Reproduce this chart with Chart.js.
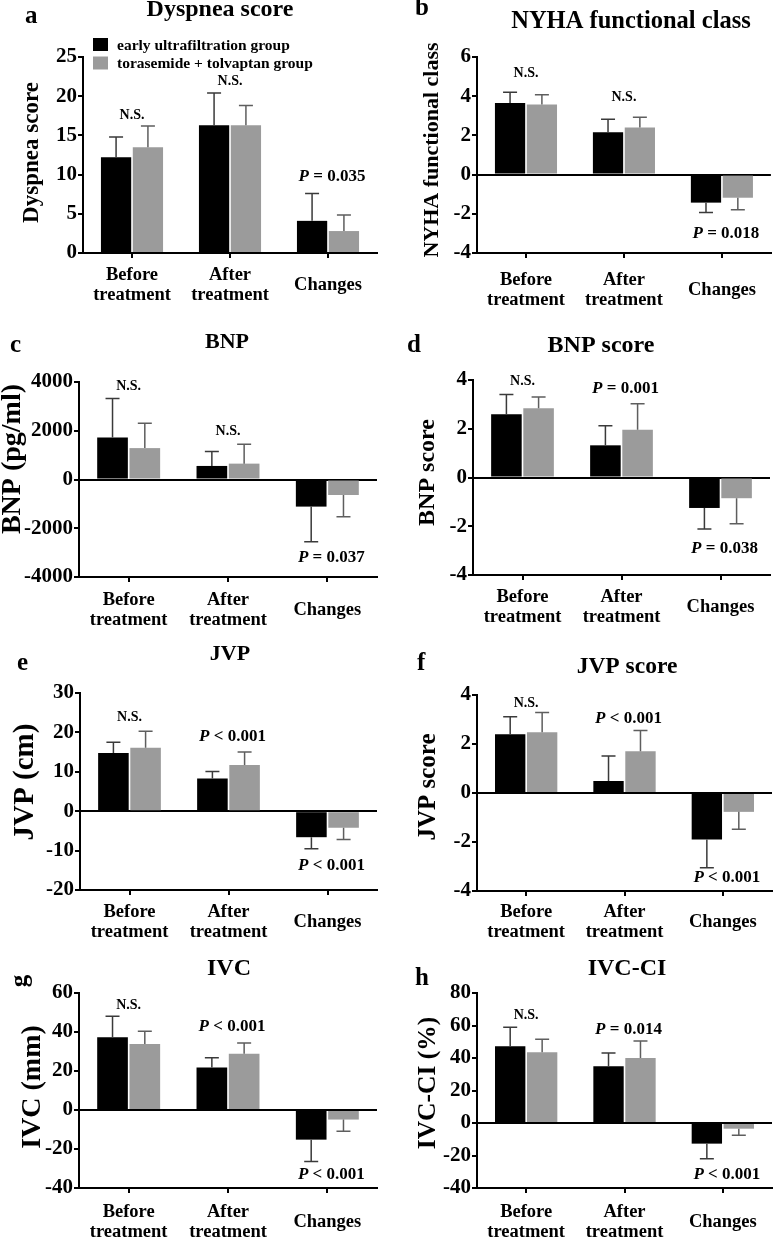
<!DOCTYPE html>
<html>
<head>
<meta charset="utf-8">
<script src="https://cdn.jsdelivr.net/npm/chart.js@4.4.0/dist/chart.umd.min.js"></script>
<style>
  body { margin: 0; background: #fff; }
  #fig { position: relative; width: 778px; height: 1239px; }
  #fig canvas { position: absolute; }
</style>
</head>
<body>
<div id="fig"></div>
<script>
const FONT = '"Liberation Serif", "Times New Roman", serif';

const categories = [['Before', 'treatment'], ['After', 'treatment'], 'Changes'];
const groupNames = ['early ultrafiltration group', 'torasemide + tolvaptan group'];

// a - Dyspnea score
const dyspneaUF = [12.2, 16.3, 4.1];
const dyspneaUFErr = [2.6, 4.1, 3.5];
const dyspneaTT = [13.5, 16.3, 2.8];
const dyspneaTTErr = [2.7, 2.5, 2.05];
const dyspneaTicks = [0, 5, 10, 15, 20, 25];
const dyspneaNotes = ['N.S.', 'N.S.', 'P = 0.035'];
const dyspneaNoteAt = [17.6, 21.9, 9.8];

// b - NYHA functional class
const nyhaUF = [3.65, 2.16, -1.43];
const nyhaUFErr = [0.55, 0.67, 0.51];
const nyhaTT = [3.58, 2.4, -1.18];
const nyhaTTErr = [0.49, 0.53, 0.61];
const nyhaTicks = [-4, -2, 0, 2, 4, 6];
const nyhaNotes = ['N.S.', 'N.S.', 'P = 0.018'];
const nyhaNoteAt = [5.15, 3.95, -3.03];

// c - BNP
const bnpUF = [1720, 556, -1112];
const bnpUFErr = [1600, 597, 1437];
const bnpTT = [1288, 651, -637];
const bnpTTErr = [1017, 800, 895];
const bnpTicks = [-4000, -2000, 0, 2000, 4000];
const bnpNotes = ['N.S.', 'N.S.', 'P = 0.037'];
const bnpNoteAt = [3800, 1966, -3186];

// d - BNP score
const bnpScoreUF = [2.6, 1.32, -1.25];
const bnpScoreUFErr = [0.81, 0.8, 0.86];
const bnpScoreTT = [2.84, 1.96, -0.85];
const bnpScoreTTErr = [0.46, 1.07, 1.05];
const bnpScoreTicks = [-4, -2, 0, 2, 4];
const bnpScoreNotes = ['N.S.', 'P = 0.001', 'P = 0.038'];
const bnpScoreNoteAt = [3.93, 3.66, -2.92];

// e - JVP
const jvpUF = [14.8, 8.3, -6.6];
const jvpUFErr = [2.7, 1.8, 2.9];
const jvpTT = [16.1, 11.75, -4.2];
const jvpTTErr = [4.2, 3.25, 3.0];
const jvpTicks = [-20, -10, 0, 10, 20, 30];
const jvpNotes = ['N.S.', 'P < 0.001', 'P < 0.001'];
const jvpNoteAt = [23.7, 18.85, -13.9];

// f - JVP score
const jvpScoreUF = [2.4, 0.49, -1.9];
const jvpScoreUFErr = [0.71, 1.02, 1.15];
const jvpScoreTT = [2.48, 1.7, -0.77];
const jvpScoreTTErr = [0.81, 0.85, 0.71];
const jvpScoreTicks = [-4, -2, 0, 2, 4];
const jvpScoreNotes = ['N.S.', 'P < 0.001', 'P < 0.001'];
const jvpScoreNoteAt = [3.66, 3.04, -3.47];

// g - IVC
const ivcUF = [37.3, 21.8, -15.2];
const ivcUFErr = [10.8, 5.0, 11.2];
const ivcTT = [33.9, 28.8, -4.9];
const ivcTTErr = [6.5, 5.5, 6.0];
const ivcTicks = [-40, -20, 0, 20, 40, 60];
const ivcNotes = ['N.S.', 'P < 0.001', 'P < 0.001'];
const ivcNoteAt = [53.5, 43, -32.9];

// h - IVC-CI
const ivcciUF = [47.3, 34.9, -12.7];
const ivcciUFErr = [11.7, 8.2, 9.3];
const ivcciTT = [43.5, 40, -3.5];
const ivcciTTErr = [8.1, 10.4, 4.1];
const ivcciTicks = [-40, -20, 0, 20, 40, 60, 80];
const ivcciNotes = ['N.S.', 'P = 0.014', 'P < 0.001'];
const ivcciNoteAt = [66.3, 57.5, -31.6];

// page layout: box = canvas [x, y, w, h], plot = chart area [l, t, r, b] (page px)
const panels = [
  { letter: ['a', 25, 23], title: ['Dyspnea score', 220, 16, 24], yTitle: ['Dyspnea score', 32, 152.5, 23],
    box: [0, 0, 389, 310], plot: [83, 57, 377, 253], labelPad: 17, legend: true,
    uf: dyspneaUF, ufErr: dyspneaUFErr, tt: dyspneaTT, ttErr: dyspneaTTErr,
    ticks: dyspneaTicks, notes: dyspneaNotes, noteAt: dyspneaNoteAt },
  { letter: ['b', 415, 15], title: ['NYHA functional class', 631, 28, 24.5], yTitle: ['NYHA functional class', 432, 150, 22],
    box: [389, 0, 389, 310], plot: [477, 57, 777, 253], labelPad: 22,
    uf: nyhaUF, ufErr: nyhaUFErr, tt: nyhaTT, ttErr: nyhaTTErr,
    ticks: nyhaTicks, notes: nyhaNotes, noteAt: nyhaNoteAt },
  { letter: ['c', 10, 352], title: ['BNP', 227, 348, 22], yTitle: ['BNP (pg/ml)', 13, 459, 28],
    box: [0, 310, 389, 322], plot: [79, 382, 377, 577], labelPad: 18,
    uf: bnpUF, ufErr: bnpUFErr, tt: bnpTT, ttErr: bnpTTErr,
    ticks: bnpTicks, notes: bnpNotes, noteAt: bnpNoteAt },
  { letter: ['d', 407, 352], title: ['BNP score', 601, 352, 24], yTitle: ['BNP score', 428, 472.5, 24],
    box: [389, 310, 389, 322], plot: [473, 380, 770, 575], labelPad: 17,
    uf: bnpScoreUF, ufErr: bnpScoreUFErr, tt: bnpScoreTT, ttErr: bnpScoreTTErr,
    ticks: bnpScoreTicks, notes: bnpScoreNotes, noteAt: bnpScoreNoteAt },
  { letter: ['e', 17, 670], title: ['JVP', 230, 660, 22], yTitle: ['JVP (cm)', 26, 782, 29],
    box: [0, 632, 389, 310], plot: [80, 693, 377, 890], labelPad: 17,
    uf: jvpUF, ufErr: jvpUFErr, tt: jvpTT, ttErr: jvpTTErr,
    ticks: jvpTicks, notes: jvpNotes, noteAt: jvpNoteAt },
  { letter: ['f', 417, 670], title: ['JVP score', 627, 673, 23.5], yTitle: ['JVP score', 429, 787, 25],
    box: [389, 632, 389, 310], plot: [477, 695, 772, 891], labelPad: 16,
    uf: jvpScoreUF, ufErr: jvpScoreUFErr, tt: jvpScoreTT, ttErr: jvpScoreTTErr,
    ticks: jvpScoreTicks, notes: jvpScoreNotes, noteAt: jvpScoreNoteAt },
  { letter: ['g', 21, 981], letterRotated: true, title: ['IVC', 229, 975, 24], yTitle: ['IVC (mm)', 33, 1087, 28],
    box: [0, 942, 389, 297], plot: [79, 993, 377, 1188], labelPad: 19,
    uf: ivcUF, ufErr: ivcUFErr, tt: ivcTT, ttErr: ivcTTErr,
    ticks: ivcTicks, notes: ivcNotes, noteAt: ivcNoteAt },
  { letter: ['h', 415, 985], title: ['IVC-CI', 627, 975, 24], yTitle: ['IVC-CI (%)', 428, 1083, 25.5],
    box: [389, 942, 389, 297], plot: [477, 993, 772, 1188], labelPad: 19,
    uf: ivcciUF, ufErr: ivcciUFErr, tt: ivcciTT, ttErr: ivcciTTErr,
    ticks: ivcciTicks, notes: ivcciNotes, noteAt: ivcciNoteAt }
];

// one-sided SD error bars, pointing away from zero
const errorBars = {
  id: 'errorBars',
  afterDatasetsDraw(chart) {
    const ctx = chart.ctx;
    const ys = chart.scales.y;
    chart.data.datasets.forEach((ds, i) => {
      chart.getDatasetMeta(i).data.forEach((bar, j) => {
        const v = ds.data[j];
        const end = ys.getPixelForValue(v < 0 ? v - ds.err[j] : v + ds.err[j]);
        ctx.save();
        ctx.strokeStyle = ds.errColor;
        ctx.lineWidth = 1.5;
        ctx.beginPath();
        ctx.moveTo(bar.x, bar.y);
        ctx.lineTo(bar.x, end);
        ctx.moveTo(bar.x - 7, end);
        ctx.lineTo(bar.x + 7, end);
        ctx.stroke();
        ctx.restore();
      });
    });
  }
};

function drawPLabel(ctx, text, x, y) {
  const rest = text.slice(1);
  ctx.font = 'italic bold 17px ' + FONT;
  const wP = ctx.measureText('P').width;
  ctx.font = 'bold 17px ' + FONT;
  const wR = ctx.measureText(rest).width;
  const x0 = x - (wP + wR) / 2;
  ctx.textAlign = 'left';
  ctx.font = 'italic bold 17px ' + FONT;
  ctx.fillText('P', x0, y);
  ctx.font = 'bold 17px ' + FONT;
  ctx.fillText(rest, x0 + wP, y);
}

// panel letter, title, y-axis title, significance notes, legend
function panelText(p) {
  return {
    id: 'panelText',
    afterDraw(chart) {
      const ctx = chart.ctx;
      const ox = p.box[0], oy = p.box[1];
      const xs = chart.scales.x, ys = chart.scales.y;
      ctx.save();
      ctx.fillStyle = '#000';

      ctx.font = 'bold 25px ' + FONT;
      if (p.letterRotated) {
        ctx.save();
        ctx.translate(p.letter[1] - ox, p.letter[2] - oy);
        ctx.rotate(-Math.PI / 2);
        ctx.textAlign = 'center';
        ctx.textBaseline = 'middle';
        ctx.fillText(p.letter[0], 0, 0);
        ctx.restore();
      } else {
        ctx.textAlign = 'left';
        ctx.textBaseline = 'alphabetic';
        ctx.fillText(p.letter[0], p.letter[1] - ox, p.letter[2] - oy);
      }

      ctx.font = 'bold ' + p.title[3] + 'px ' + FONT;
      ctx.textAlign = 'center';
      ctx.textBaseline = 'alphabetic';
      ctx.fillText(p.title[0], p.title[1] - ox, p.title[2] - oy);

      ctx.save();
      ctx.translate(p.yTitle[1] - ox, p.yTitle[2] - oy);
      ctx.rotate(-Math.PI / 2);
      ctx.font = 'bold ' + p.yTitle[3] + 'px ' + FONT;
      ctx.textAlign = 'center';
      ctx.textBaseline = 'middle';
      ctx.fillText(p.yTitle[0], 0, 0);
      ctx.restore();

      ctx.textBaseline = 'middle';
      p.notes.forEach((t, i) => {
        const x = xs.getPixelForValue(i);
        const y = ys.getPixelForValue(p.noteAt[i]);
        if (t.charAt(0) === 'P') {
          drawPLabel(ctx, t, x + 4, y);
        } else {
          ctx.font = 'bold 14px ' + FONT;
          ctx.textAlign = 'center';
          ctx.fillText(t, x, y);
        }
      });

      if (p.legend) {
        ctx.font = 'bold 15.5px ' + FONT;
        ctx.textAlign = 'left';
        ctx.textBaseline = 'alphabetic';
        chart.data.datasets.forEach((ds, i) => {
          const cy = 44.5 + i * 18.5 - oy;
          ctx.fillStyle = ds.backgroundColor;
          ctx.fillRect(93 - ox, cy - 6.5, 15, 13);
          ctx.fillStyle = '#000';
          ctx.fillText(ds.label, 117 - ox, cy + 5);
        });
      }
      ctx.restore();
    }
  };
}

const fig = document.getElementById('fig');

panels.forEach(p => {
  const [bx, by, bw, bh] = p.box;
  const [pl, pt, pr, pb] = p.plot;
  const canvas = document.createElement('canvas');
  canvas.width = bw;
  canvas.height = bh;
  canvas.style.left = bx + 'px';
  canvas.style.top = by + 'px';
  fig.appendChild(canvas);

  new Chart(canvas, {
    type: 'bar',
    data: {
      labels: categories,
      datasets: [
        {
          label: groupNames[0],
          data: p.uf,
          err: p.ufErr,
          errColor: '#3a3a3a',
          backgroundColor: '#000000',
          categoryPercentage: 0.65,
          barPercentage: 0.95
        },
        {
          label: groupNames[1],
          data: p.tt,
          err: p.ttErr,
          errColor: '#5e5e5e',
          backgroundColor: '#9b9b9b',
          categoryPercentage: 0.65,
          barPercentage: 0.95
        }
      ]
    },
    options: {
      responsive: false,
      animation: false,
      events: [],
      layout: {
        padding: { left: 0, top: pt - by, right: bx + bw - pr, bottom: 0 }
      },
      plugins: {
        legend: { display: false },
        tooltip: { enabled: false }
      },
      scales: {
        x: {
          afterFit: s => { s.height = by + bh - pb; },
          border: { color: '#000', width: 2 },
          grid: {
            drawOnChartArea: false,
            offset: false,
            color: '#000',
            tickColor: '#000',
            lineWidth: 2,
            tickLength: 5
          },
          ticks: {
            color: '#000',
            autoSkip: false,
            maxRotation: 0,
            crossAlign: 'center',
            padding: p.labelPad,
            font: { family: FONT, size: 18.5, weight: 'bold', lineHeight: 1.1 }
          }
        },
        y: {
          min: p.ticks[0],
          max: p.ticks[p.ticks.length - 1],
          afterFit: s => { s.width = pl - bx; },
          afterBuildTicks: s => { s.ticks = p.ticks.map(v => ({ value: v })); },
          border: { color: '#000', width: 2 },
          grid: {
            color: c => (c.tick && c.tick.value === 0 ? '#000' : 'rgba(0,0,0,0)'),
            tickColor: '#000',
            lineWidth: 2,
            tickLength: 5
          },
          ticks: {
            color: '#000',
            padding: 1,
            callback: v => String(v),
            font: { family: FONT, size: 21, weight: 'bold' }
          }
        }
      }
    },
    plugins: [errorBars, panelText(p)]
  });
});
</script>
</body>
</html>
